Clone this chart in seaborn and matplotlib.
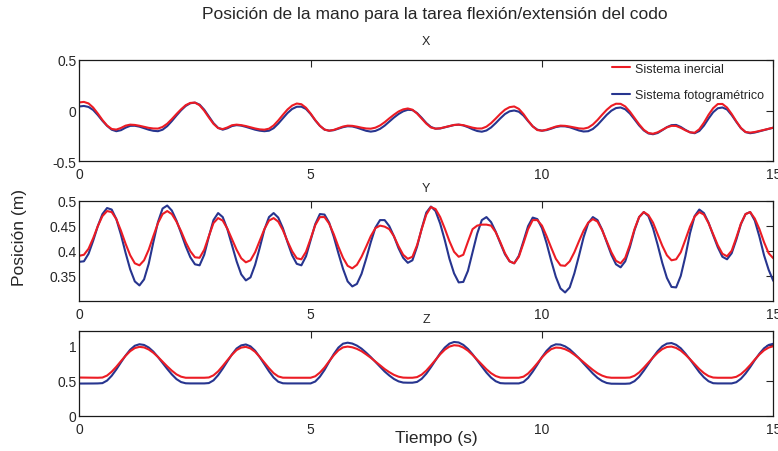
import numpy as np
import pandas as pd
import matplotlib
matplotlib.use("Agg")
import matplotlib.pyplot as plt
import seaborn as sns
from matplotlib.ticker import FuncFormatter

sns.set_theme(style="white")
plt.rcParams["font.family"] = ["Liberation Sans", "DejaVu Sans"]
plt.rcParams["axes.unicode_minus"] = False

TITLE = "Posición de la mano para la tarea flexión/extensión del codo"
XLABEL = "Tiempo (s)"
YLABEL = "Posición (m)"
INERCIAL = "Sistema inercial"
FOTO = "Sistema fotogramétrico"
EJES = ["X", "Y", "Z"]

tiempo = np.linspace(0, 15, 151)

x_inercial = [
    0.080, 0.085, 0.070, 0.029, -0.030, -0.094, -0.149, -0.183, -0.189, -0.173,
    -0.150, -0.140, -0.143, -0.151, -0.162, -0.172, -0.178, -0.179, -0.163, -0.131,
    -0.085, -0.035, 0.012, 0.053, 0.075, 0.078, 0.052, -0.002, -0.069, -0.132,
    -0.174, -0.184, -0.168, -0.146, -0.140, -0.145, -0.154, -0.166, -0.178, -0.187,
    -0.190, -0.180, -0.148, -0.099, -0.043, 0.010, 0.049, 0.069, 0.062, 0.027,
    -0.030, -0.095, -0.151, -0.189, -0.200, -0.192, -0.175, -0.159, -0.150, -0.152,
    -0.160, -0.170, -0.178, -0.180, -0.170, -0.148, -0.116, -0.078, -0.042, -0.010,
    0.011, 0.020, 0.008, -0.030, -0.080, -0.130, -0.168, -0.180, -0.176, -0.165,
    -0.153, -0.143, -0.140, -0.145, -0.157, -0.170, -0.178, -0.178, -0.160, -0.125,
    -0.080, -0.033, 0.008, 0.033, 0.040, 0.016, -0.035, -0.100, -0.157, -0.194,
    -0.200, -0.190, -0.174, -0.159, -0.150, -0.152, -0.159, -0.168, -0.177, -0.180,
    -0.169, -0.139, -0.094, -0.042, 0.007, 0.046, 0.067, 0.066, 0.040, -0.011,
    -0.074, -0.137, -0.191, -0.223, -0.230, -0.216, -0.191, -0.167, -0.152, -0.153,
    -0.172, -0.196, -0.216, -0.220, -0.186, -0.121, -0.043, 0.023, 0.064, 0.065,
    0.029, -0.034, -0.107, -0.173, -0.213, -0.219, -0.213, -0.203, -0.192, -0.181,
    -0.170,
]
x_foto = [
    0.040, 0.045, 0.035, 0.005, -0.045, -0.102, -0.152, -0.190, -0.205, -0.195,
    -0.170, -0.152, -0.151, -0.160, -0.175, -0.190, -0.201, -0.205, -0.190, -0.155,
    -0.105, -0.050, 0.002, 0.045, 0.072, 0.078, 0.058, 0.008, -0.058, -0.125,
    -0.172, -0.190, -0.176, -0.154, -0.145, -0.150, -0.162, -0.176, -0.190, -0.200,
    -0.205, -0.200, -0.175, -0.130, -0.078, -0.025, 0.015, 0.037, 0.038, 0.015,
    -0.035, -0.098, -0.152, -0.189, -0.200, -0.195, -0.180, -0.165, -0.156, -0.158,
    -0.170, -0.186, -0.201, -0.209, -0.202, -0.182, -0.150, -0.110, -0.070, -0.035,
    -0.008, 0.007, 0.004, -0.025, -0.072, -0.124, -0.163, -0.180, -0.178, -0.167,
    -0.155, -0.144, -0.140, -0.148, -0.165, -0.186, -0.203, -0.210, -0.198, -0.168,
    -0.125, -0.078, -0.035, -0.008, 0.000, -0.012, -0.050, -0.105, -0.157, -0.190,
    -0.200, -0.194, -0.180, -0.164, -0.156, -0.157, -0.166, -0.182, -0.198, -0.208,
    -0.205, -0.183, -0.143, -0.093, -0.043, -0.002, 0.024, 0.030, 0.012, -0.030,
    -0.088, -0.148, -0.197, -0.227, -0.235, -0.223, -0.195, -0.165, -0.145, -0.143,
    -0.163, -0.192, -0.216, -0.225, -0.203, -0.150, -0.080, -0.017, 0.022, 0.030,
    0.010, -0.045, -0.112, -0.175, -0.214, -0.225, -0.218, -0.206, -0.193, -0.181,
    -0.170,
]
y_inercial = [
    0.390, 0.392, 0.404, 0.425, 0.449, 0.469, 0.479, 0.477, 0.463, 0.440,
    0.414, 0.391, 0.375, 0.371, 0.381, 0.402, 0.429, 0.455, 0.473, 0.479,
    0.473, 0.458, 0.439, 0.417, 0.399, 0.387, 0.386, 0.402, 0.429, 0.455,
    0.465, 0.460, 0.444, 0.423, 0.402, 0.385, 0.377, 0.381, 0.397, 0.420,
    0.443, 0.460, 0.465, 0.458, 0.441, 0.419, 0.399, 0.385, 0.383, 0.398,
    0.424, 0.451, 0.467, 0.467, 0.454, 0.433, 0.408, 0.386, 0.370, 0.365,
    0.372, 0.388, 0.408, 0.429, 0.445, 0.450, 0.448, 0.443, 0.429, 0.409,
    0.392, 0.384, 0.388, 0.411, 0.443, 0.472, 0.487, 0.483, 0.467, 0.444,
    0.419, 0.398, 0.388, 0.392, 0.418, 0.443, 0.450, 0.452, 0.452, 0.450,
    0.437, 0.417, 0.395, 0.379, 0.375, 0.388, 0.415, 0.443, 0.461, 0.461,
    0.450, 0.429, 0.406, 0.384, 0.371, 0.370, 0.379, 0.397, 0.419, 0.440,
    0.456, 0.463, 0.458, 0.441, 0.419, 0.397, 0.380, 0.375, 0.386, 0.412,
    0.443, 0.467, 0.477, 0.471, 0.456, 0.433, 0.410, 0.391, 0.381, 0.383,
    0.397, 0.422, 0.448, 0.468, 0.477, 0.472, 0.455, 0.433, 0.411, 0.394,
    0.389, 0.400, 0.426, 0.454, 0.473, 0.477, 0.464, 0.443, 0.417, 0.395,
    0.385,
]
y_foto = [
    0.378, 0.379, 0.394, 0.420, 0.449, 0.473, 0.485, 0.482, 0.463, 0.432,
    0.396, 0.363, 0.339, 0.331, 0.343, 0.374, 0.417, 0.457, 0.484, 0.490,
    0.480, 0.460, 0.435, 0.409, 0.387, 0.373, 0.371, 0.392, 0.428, 0.461,
    0.475, 0.467, 0.443, 0.411, 0.379, 0.353, 0.341, 0.347, 0.372, 0.406,
    0.442, 0.467, 0.475, 0.466, 0.445, 0.417, 0.391, 0.374, 0.371, 0.389,
    0.421, 0.453, 0.473, 0.472, 0.456, 0.428, 0.395, 0.364, 0.339, 0.329,
    0.334, 0.354, 0.384, 0.417, 0.446, 0.461, 0.461, 0.449, 0.429, 0.405,
    0.386, 0.376, 0.381, 0.408, 0.444, 0.476, 0.488, 0.479, 0.454, 0.421,
    0.384, 0.355, 0.337, 0.338, 0.360, 0.397, 0.434, 0.461, 0.467, 0.457,
    0.438, 0.415, 0.393, 0.379, 0.375, 0.390, 0.419, 0.449, 0.466, 0.463,
    0.445, 0.415, 0.380, 0.348, 0.325, 0.317, 0.327, 0.355, 0.390, 0.427,
    0.455, 0.467, 0.461, 0.442, 0.417, 0.392, 0.373, 0.367, 0.379, 0.407,
    0.441, 0.467, 0.477, 0.469, 0.445, 0.412, 0.376, 0.346, 0.328, 0.327,
    0.350, 0.389, 0.435, 0.469, 0.482, 0.475, 0.456, 0.431, 0.407, 0.388,
    0.383, 0.395, 0.422, 0.453, 0.473, 0.477, 0.460, 0.428, 0.391, 0.362,
    0.340,
]
z_inercial = [
    0.543, 0.542, 0.541, 0.540, 0.540, 0.543, 0.571, 0.625, 0.695, 0.774,
    0.850, 0.915, 0.959, 0.976, 0.968, 0.939, 0.893, 0.834, 0.768, 0.701,
    0.640, 0.588, 0.555, 0.540, 0.540, 0.540, 0.540, 0.540, 0.544, 0.574,
    0.630, 0.706, 0.787, 0.865, 0.931, 0.966, 0.976, 0.954, 0.906, 0.834,
    0.754, 0.675, 0.605, 0.559, 0.541, 0.540, 0.540, 0.540, 0.540, 0.540,
    0.540, 0.561, 0.613, 0.685, 0.773, 0.857, 0.927, 0.969, 0.980, 0.970,
    0.948, 0.915, 0.870, 0.822, 0.769, 0.716, 0.663, 0.619, 0.581, 0.555,
    0.542, 0.540, 0.540, 0.549, 0.584, 0.641, 0.715, 0.793, 0.871, 0.936,
    0.980, 0.999, 0.993, 0.966, 0.922, 0.862, 0.794, 0.725, 0.660, 0.604,
    0.564, 0.543, 0.540, 0.540, 0.540, 0.540, 0.555, 0.600, 0.668, 0.745,
    0.826, 0.894, 0.944, 0.966, 0.962, 0.943, 0.911, 0.865, 0.815, 0.759,
    0.704, 0.651, 0.604, 0.570, 0.548, 0.540, 0.540, 0.540, 0.540, 0.543,
    0.568, 0.615, 0.681, 0.753, 0.826, 0.892, 0.944, 0.974, 0.980, 0.961,
    0.923, 0.866, 0.802, 0.732, 0.663, 0.606, 0.564, 0.543, 0.540, 0.540,
    0.540, 0.540, 0.553, 0.591, 0.649, 0.719, 0.797, 0.868, 0.927, 0.966,
    0.985,
]
z_foto = [
    0.458, 0.458, 0.459, 0.459, 0.460, 0.464, 0.500, 0.568, 0.657, 0.757,
    0.853, 0.936, 0.992, 1.013, 1.003, 0.967, 0.909, 0.833, 0.750, 0.665,
    0.587, 0.521, 0.479, 0.462, 0.460, 0.460, 0.460, 0.460, 0.465, 0.503,
    0.576, 0.669, 0.771, 0.870, 0.953, 0.997, 1.010, 0.983, 0.922, 0.831,
    0.730, 0.631, 0.543, 0.484, 0.462, 0.460, 0.460, 0.460, 0.460, 0.460,
    0.460, 0.487, 0.555, 0.650, 0.765, 0.874, 0.966, 1.021, 1.035, 1.023,
    0.994, 0.951, 0.894, 0.832, 0.764, 0.696, 0.628, 0.572, 0.523, 0.489,
    0.472, 0.470, 0.470, 0.481, 0.525, 0.597, 0.689, 0.787, 0.885, 0.966,
    1.022, 1.045, 1.038, 1.004, 0.947, 0.871, 0.785, 0.697, 0.613, 0.542,
    0.491, 0.464, 0.460, 0.460, 0.460, 0.460, 0.480, 0.538, 0.626, 0.726,
    0.831, 0.920, 0.985, 1.012, 1.008, 0.983, 0.941, 0.880, 0.815, 0.741,
    0.670, 0.600, 0.539, 0.494, 0.466, 0.456, 0.455, 0.455, 0.455, 0.459,
    0.492, 0.553, 0.639, 0.733, 0.829, 0.915, 0.984, 1.022, 1.030, 1.005,
    0.956, 0.882, 0.799, 0.709, 0.620, 0.546, 0.491, 0.463, 0.460, 0.460,
    0.460, 0.460, 0.477, 0.526, 0.600, 0.690, 0.789, 0.880, 0.956, 1.003,
    1.020,
]

x_ticks = [0, 5, 10, 15]
y_ticks = {"X": [-0.5, 0, 0.5], "Y": [0.35, 0.4, 0.45, 0.5], "Z": [0, 0.5, 1]}
y_lims = {"X": (-0.5, 0.5), "Y": (0.3, 0.5), "Z": (0, 1.2)}

series = {
    ("X", INERCIAL): x_inercial, ("X", FOTO): x_foto,
    ("Y", INERCIAL): y_inercial, ("Y", FOTO): y_foto,
    ("Z", INERCIAL): z_inercial, ("Z", FOTO): z_foto,
}
frames = []
for (eje, sistema), vals in series.items():
    frames.append(pd.DataFrame({"tiempo": tiempo, "posicion": vals,
                                "sistema": sistema, "eje": eje}))
df = pd.concat(frames, ignore_index=True)

RED = "#ec1c24"
BLUE = "#27358f"
TXT = "#262626"
palette = {INERCIAL: RED, FOTO: BLUE}

W, H = 778, 452
fig = plt.figure(figsize=(W / 100, H / 100), dpi=100)
left, right = 79.3, 773.3
boxes = {"X": (61, 162), "Y": (201.5, 302), "Z": (332, 417)}
title_pads = {"X": 11.5, "Y": 7.0, "Z": 6.5}

fmt = FuncFormatter(lambda v, p: f"{v:g}")
axes = {}
for eje in EJES:
    top, bot = boxes[eje]
    ax = fig.add_axes([left / W, 1 - bot / H, (right - left) / W, (bot - top) / H])
    axes[eje] = ax
    sub = df[df["eje"] == eje]
    sns.lineplot(data=sub, x="tiempo", y="posicion", hue="sistema",
                 hue_order=[FOTO, INERCIAL], palette=palette, estimator=None,
                 sort=False, linewidth=1.5, legend=False, ax=ax)
    ax.set_xlim(0, 15)
    ax.set_ylim(*y_lims[eje])
    ax.set_xticks(x_ticks)
    ax.set_yticks(y_ticks[eje])
    ax.xaxis.set_major_formatter(fmt)
    ax.yaxis.set_major_formatter(fmt)
    ax.set_xlabel("")
    ax.set_ylabel("")
    ax.tick_params(axis="both", direction="in", length=5, width=0.8,
                   top=True, right=True, labelsize=10, colors=TXT)
    ax.tick_params(axis="x", pad=4)
    ax.tick_params(axis="y", pad=2)
    for sp in ax.spines.values():
        sp.set_color("#1a1a1a")
        sp.set_linewidth(0.9)
    ax.set_title(eje, fontsize=9, color=TXT, pad=title_pads[eje])

axX = axes["X"]
lines = axX.get_lines()
axX.legend(handles=[lines[1], lines[0]], labels=[INERCIAL, FOTO],
           loc="upper left", bbox_to_anchor=((612 - left) / (right - left), 0.975),
           frameon=False, fontsize=9, handlelength=1.45, handletextpad=0.4,
           labelspacing=1.15, borderpad=0, borderaxespad=0, labelcolor=TXT)

fig.text(435 / W, 1 - 15 / H, TITLE, ha="center", va="center", fontsize=12.5, color=TXT)
fig.text(436 / W, 1 - 439 / H, XLABEL, ha="center", va="center", fontsize=12.5, color=TXT)
fig.text(20 / W, 1 - 238 / H, YLABEL, ha="center", va="center", rotation=90,
         fontsize=12.5, color=TXT)

fig.savefig("out.png", dpi=100, facecolor="white")
